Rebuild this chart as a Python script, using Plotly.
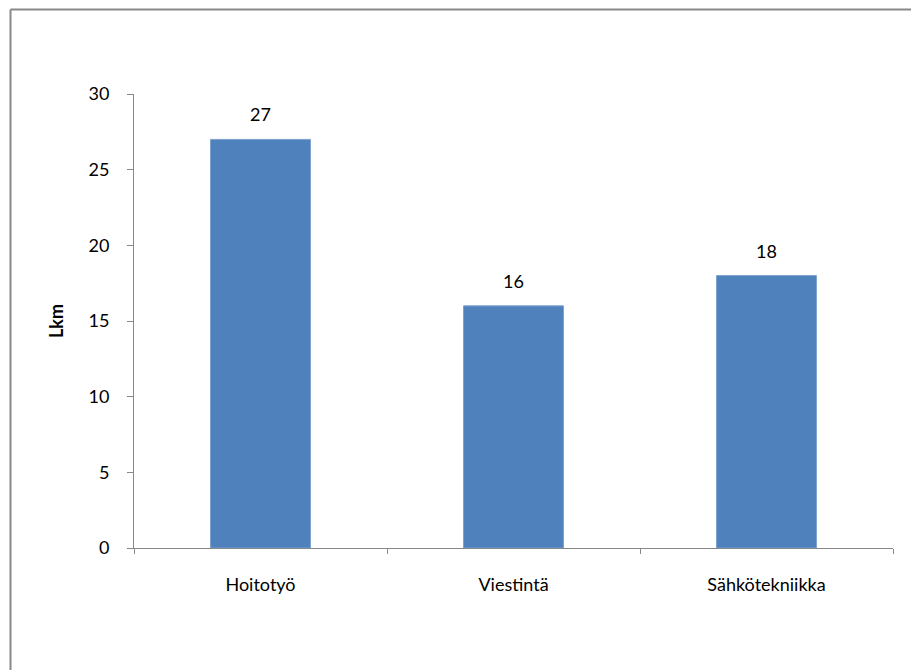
import plotly.graph_objects as go

categories = ["Hoitotyö", "Viestintä", "Sähkötekniikka"]
values = [27, 16, 18]
y_ticks = [0, 5, 10, 15, 20, 25, 30]

FONT = "Lato, Open Sans, sans-serif"
FS = 18

W, H = 911, 670
L, R, T, B = 134, 18, 94, 122
pw, ph = W - L - R, H - T - B

fig = go.Figure()
fig.add_trace(go.Bar(
    x=categories, y=values,
    marker=dict(color="#4F81BD", line=dict(color="#7DA2CE", width=1)),
    width=0.395,
    hoverinfo="skip",
))

for c, v in zip(categories, values):
    fig.add_annotation(x=c, y=v, text=str(v), showarrow=False,
                       yshift=25, font=dict(family=FONT, size=FS, color="black"))

bx0 = (10.5 - L) / pw
by1 = 1 + (T - 9.5) / ph
border = dict(color="#888888", width=2)

fig.update_layout(
    width=W, height=H,
    margin=dict(l=L, r=R, t=T, b=B),
    paper_bgcolor="white", plot_bgcolor="white",
    showlegend=False,
    font=dict(family=FONT, size=FS, color="black"),
    xaxis=dict(
        type="category", tickson="boundaries", ticks="outside", ticklen=5,
        tickcolor="#888888", showline=True, linecolor="#888888", linewidth=1,
        showgrid=False, ticklabelstandoff=20, tickfont=dict(family=FONT, size=FS),
        range=[-0.5, 2.5],
    ),
    yaxis=dict(
        range=[0, 30], tickvals=y_ticks, ticks="outside", ticklen=6,
        tickcolor="#888888", showline=True, linecolor="#888888", linewidth=1,
        showgrid=False, zeroline=False, ticklabelstandoff=14,
        tickfont=dict(family=FONT, size=FS),
        title=dict(text="<b>Lkm</b>", font=dict(family=FONT, size=FS), standoff=20),
    ),
    shapes=[
        dict(type="line", xref="paper", yref="paper",
             x0=bx0, x1=1 + R / pw, y0=by1, y1=by1, line=border, layer="below"),
        dict(type="line", xref="paper", yref="paper",
             x0=bx0, x1=bx0, y0=-B / ph, y1=by1, line=border, layer="below"),
    ],
)

fig.write_html(
    "out.html",
    config={"displayModeBar": False},
    post_script="document.body.style.margin='0';document.body.style.overflow='hidden';",
)
